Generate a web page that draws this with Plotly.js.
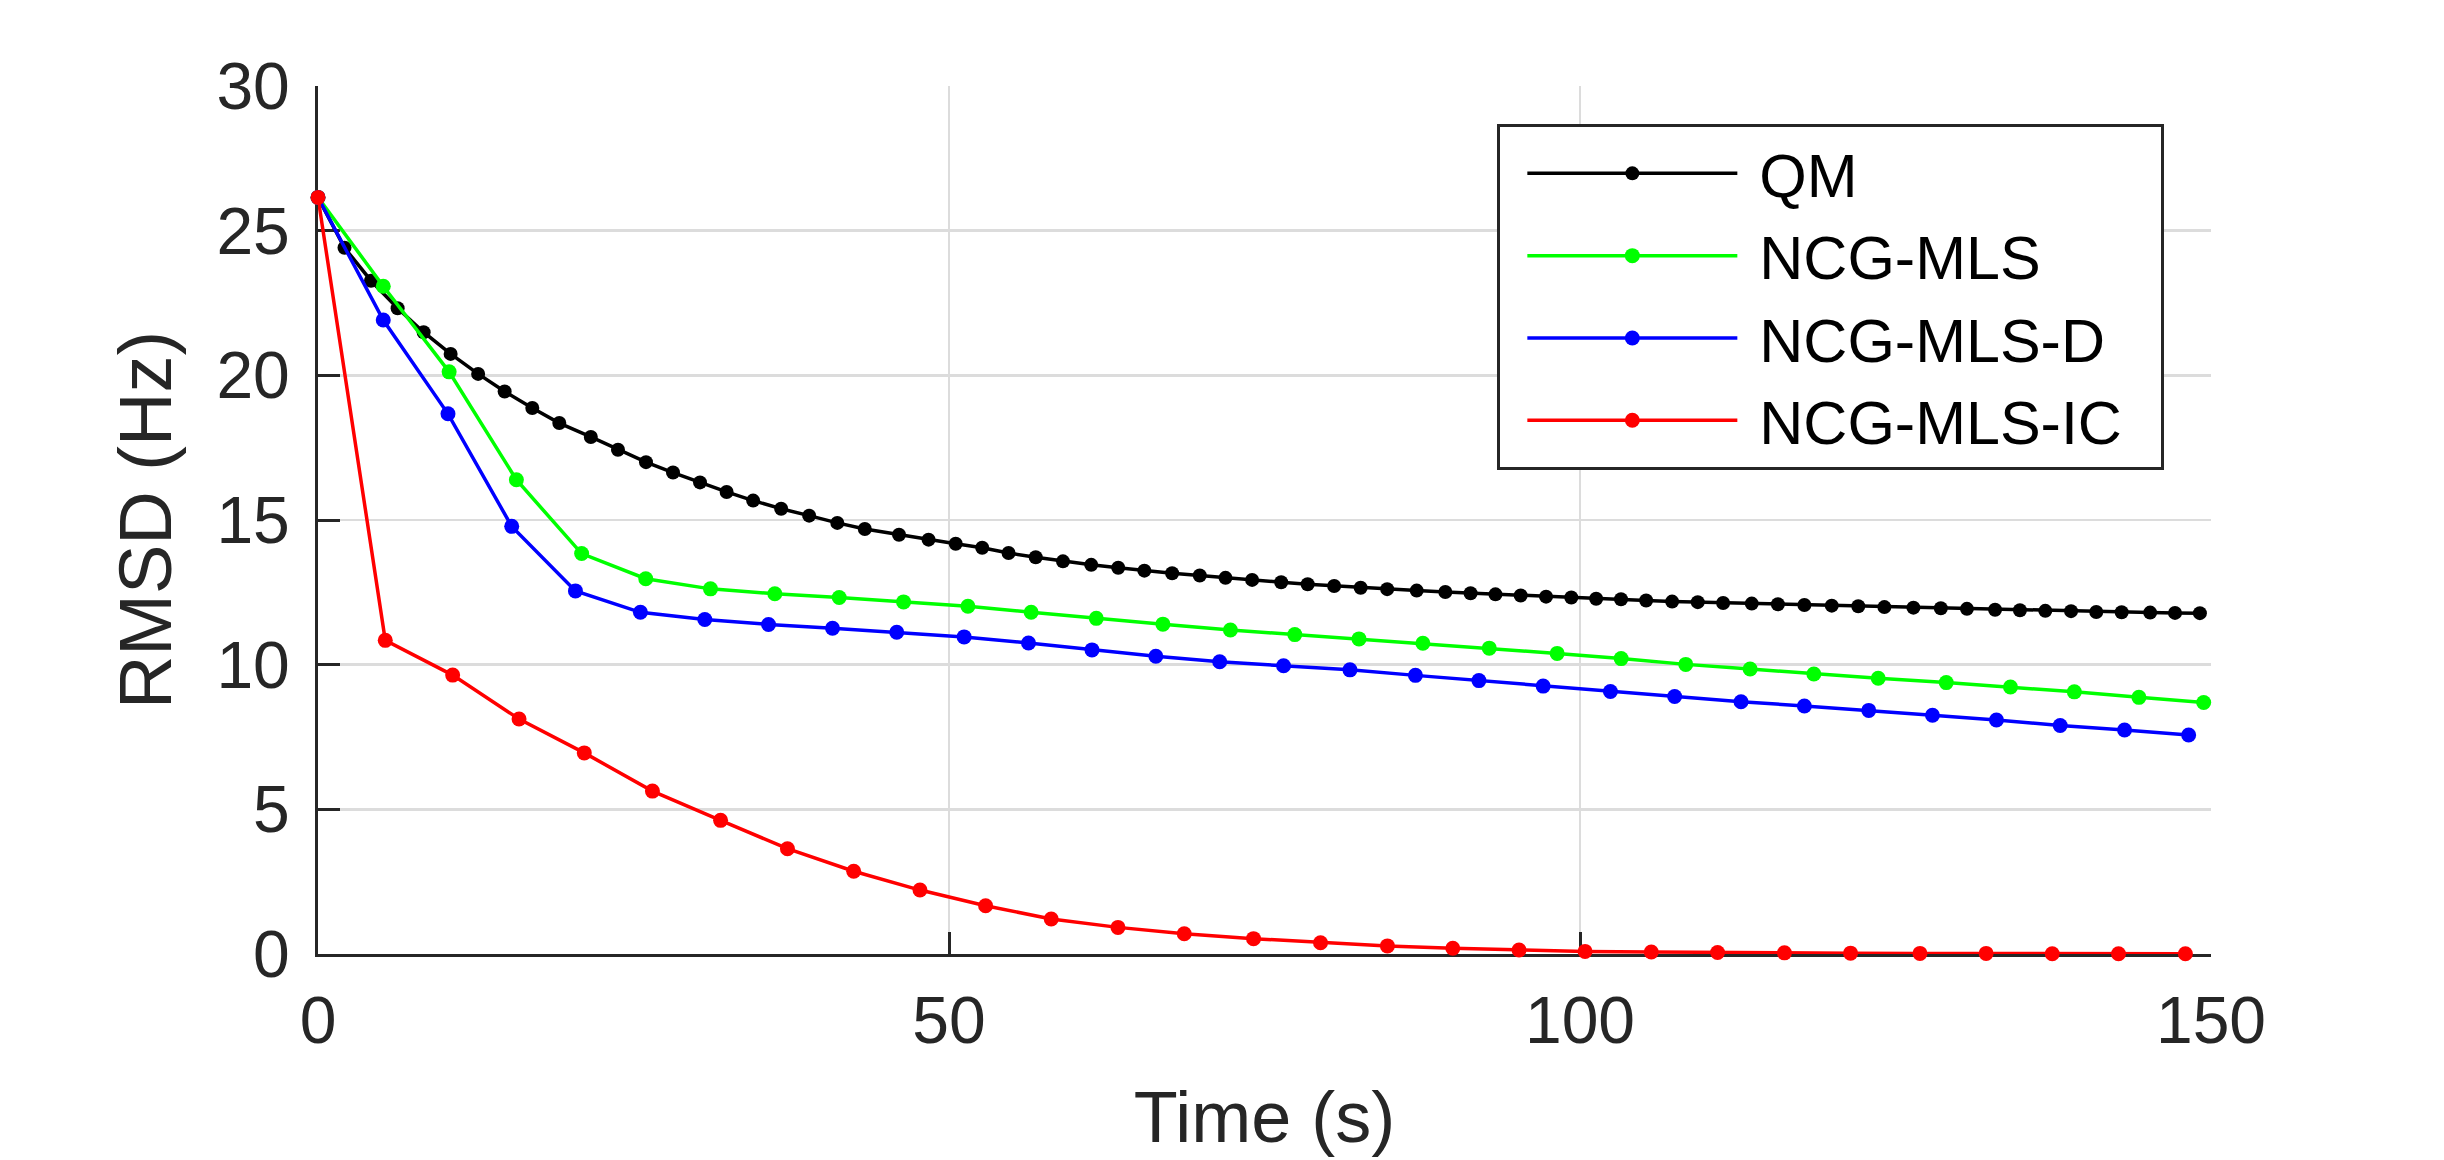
<!DOCTYPE html>
<html>
<head>
<meta charset="utf-8">
<script src="https://cdn.plot.ly/plotly-3.0.1.min.js"></script>
<style>
  html, body { margin: 0; padding: 0; background: #fff; }
  #chart { width: 2444px; height: 1160px; }
</style>
</head>
<body>
<div id="chart"></div>
<script>
// values
var series_names = ['QM', 'NCG-MLS', 'NCG-MLS-D', 'NCG-MLS-IC'];
var series_colors = ['#000000', '#00ff00', '#0000ff', '#ff0000'];

var qm_t = [0, 2.10, 4.20, 6.31, 8.37, 10.51, 12.69, 14.79, 16.98, 19.12,
    21.62, 23.77, 25.99, 28.13, 30.27, 32.38, 34.48, 36.70, 38.92, 41.15,
    43.33, 46.04, 48.38, 50.53, 52.63, 54.72, 56.87, 59.03, 61.27, 63.41,
    65.48, 67.68, 69.87, 71.91, 74.02, 76.32, 78.42, 80.52, 82.62, 84.72,
    87.06, 89.33, 91.33, 93.30, 95.30, 97.31, 99.31, 101.28, 103.25, 105.24,
    107.30, 109.33, 111.34, 113.61, 115.68, 117.78, 119.95, 122.05, 124.12, 126.42,
    128.59, 130.66, 132.89, 134.86, 136.87, 138.91, 140.91, 142.92, 145.18, 147.15,
    149.12];
var qm_rmsd = [26.15, 24.41, 23.27, 22.32, 21.49, 20.74, 20.05, 19.44, 18.87, 18.35,
    17.87, 17.43, 17.00, 16.64, 16.30, 15.97, 15.67, 15.39, 15.15, 14.90,
    14.69, 14.49, 14.32, 14.18, 14.04, 13.86, 13.71, 13.57, 13.45, 13.35,
    13.25, 13.16, 13.08, 13.00, 12.93, 12.85, 12.78, 12.72, 12.66, 12.61,
    12.56, 12.51, 12.47, 12.43, 12.39, 12.35, 12.32, 12.28, 12.26, 12.22,
    12.18, 12.16, 12.13, 12.11, 12.09, 12.06, 12.04, 12.02, 11.99, 11.97,
    11.95, 11.93, 11.90, 11.88, 11.86, 11.85, 11.82, 11.81, 11.80, 11.79,
    11.78];

var mls_t = [0, 5.17, 10.39, 15.72, 20.89, 25.97, 31.1, 36.2, 41.3, 46.4,
    51.5, 56.51, 61.67, 66.95, 72.30, 77.40, 82.49, 87.55, 92.81, 98.19,
    103.26, 108.38, 113.48, 118.53, 123.63, 129.02, 134.11, 139.17, 144.29, 149.42];
var mls_rmsd = [26.15, 23.08, 20.12, 16.39, 13.84, 12.97, 12.62, 12.45, 12.32, 12.17,
    12.02, 11.81, 11.60, 11.40, 11.20, 11.04, 10.89, 10.74, 10.57, 10.39,
    10.21, 10.01, 9.85, 9.68, 9.53, 9.38, 9.23, 9.06, 8.87, 8.69];

var mlsd_t = [0, 5.17, 10.3, 15.35, 20.4, 25.55, 30.65, 35.7, 40.77, 45.86,
    51.2, 56.3, 61.33, 66.39, 71.45, 76.51, 81.77, 86.96, 91.99, 97.08,
    102.41, 107.50, 112.76, 117.78, 122.88, 127.93, 133.00, 138.05, 143.15, 148.23];
var mlsd_rmsd = [26.15, 21.91, 18.67, 14.78, 12.55, 11.81, 11.56, 11.39, 11.26, 11.12,
    10.96, 10.75, 10.51, 10.29, 10.10, 9.96, 9.82, 9.63, 9.45, 9.26,
    9.07, 8.90, 8.72, 8.57, 8.42, 8.25, 8.09, 7.90, 7.74, 7.57];

var mlsic_t = [0, 5.33, 10.67, 15.93, 21.1, 26.5, 31.9, 37.2, 42.45, 47.7,
    52.9, 58.1, 63.39, 68.64, 74.13, 79.44, 84.74, 89.92, 95.17, 100.40,
    105.65, 110.90, 116.20, 121.44, 126.94, 132.18, 137.42, 142.67, 147.97];
var mlsic_rmsd = [26.15, 10.84, 9.64, 8.12, 6.95, 5.63, 4.62, 3.64, 2.86, 2.21,
    1.67, 1.21, 0.92, 0.70, 0.53, 0.39, 0.28, 0.20, 0.14, 0.09,
    0.07, 0.05, 0.04, 0.03, 0.02, 0.02, 0.01, 0.01, 0.01];

var x_ticks = [0, 50, 100, 150];
var y_ticks = [0, 5, 10, 15, 20, 25, 30];

var xs = [qm_t, mls_t, mlsd_t, mlsic_t];
var ys = [qm_rmsd, mls_rmsd, mlsd_rmsd, mlsic_rmsd];

var data = [];
for (var i = 0; i < series_names.length; i++) {
    // leading nbsp puts a gap between the legend line and its label
    var label = '\u00a0' + series_names[i];
    if (i == series_names.length - 1) {
        label += '\u00a0\u00a0';
    }
    data.push({
        type: 'scatter',
        mode: 'lines+markers',
        name: label,
        x: xs[i],
        y: ys[i],
        line: { color: series_colors[i], width: 3.5 },
        marker: { color: series_colors[i], size: (i == 0 ? 14 : 15), symbol: 'circle' },
        cliponaxis: false
    });
}

var font_family = '"Liberation Sans", Arial, Helvetica, sans-serif';
var ink = '#262626';

var layout = {
    width: 2444,
    height: 1160,
    paper_bgcolor: '#ffffff',
    plot_bgcolor: '#ffffff',
    font: { family: font_family, color: ink, size: 64 },
    margin: { l: 318, r: 233, t: 86, b: 206 },
    showlegend: true,
    legend: {
        x: 0.623,
        y: 0.956,
        xanchor: 'left',
        yanchor: 'top',
        bgcolor: '#ffffff',
        bordercolor: ink,
        borderwidth: 3,
        itemwidth: 210,
        indentation: 22,
        font: { family: font_family, size: 61, color: '#000000' }
    },
    xaxis: {
        range: [0, 150],
        tickvals: x_ticks,
        ticktext: x_ticks.map(String),
        ticks: 'inside',
        ticklen: 22,
        tickwidth: 3,
        tickcolor: ink,
        ticklabelstandoff: 7,
        showline: true,
        linecolor: ink,
        linewidth: 3,
        showgrid: true,
        gridcolor: '#dcdcdc',
        gridwidth: 2.5,
        zeroline: false,
        layer: 'below traces',
        tickfont: { family: font_family, size: 66, color: ink },
        title: { text: 'Time (s)', font: { family: font_family, size: 72, color: ink }, standoff: 36 },
        automargin: false
    },
    yaxis: {
        range: [0, 30],
        tickvals: y_ticks,
        ticktext: y_ticks.map(String),
        ticks: 'inside',
        ticklen: 22,
        tickwidth: 3,
        tickcolor: ink,
        ticklabelstandoff: 12,
        showline: true,
        linecolor: ink,
        linewidth: 3,
        showgrid: true,
        gridcolor: '#dcdcdc',
        gridwidth: 2.5,
        zeroline: false,
        layer: 'below traces',
        tickfont: { family: font_family, size: 66, color: ink },
        title: { text: 'RMSD (Hz)', font: { family: font_family, size: 74, color: ink }, standoff: 21 },
        automargin: false
    }
};

var config = { displayModeBar: false, staticPlot: true };
Plotly.newPlot('chart', data, layout, config);
</script>
</body>
</html>
